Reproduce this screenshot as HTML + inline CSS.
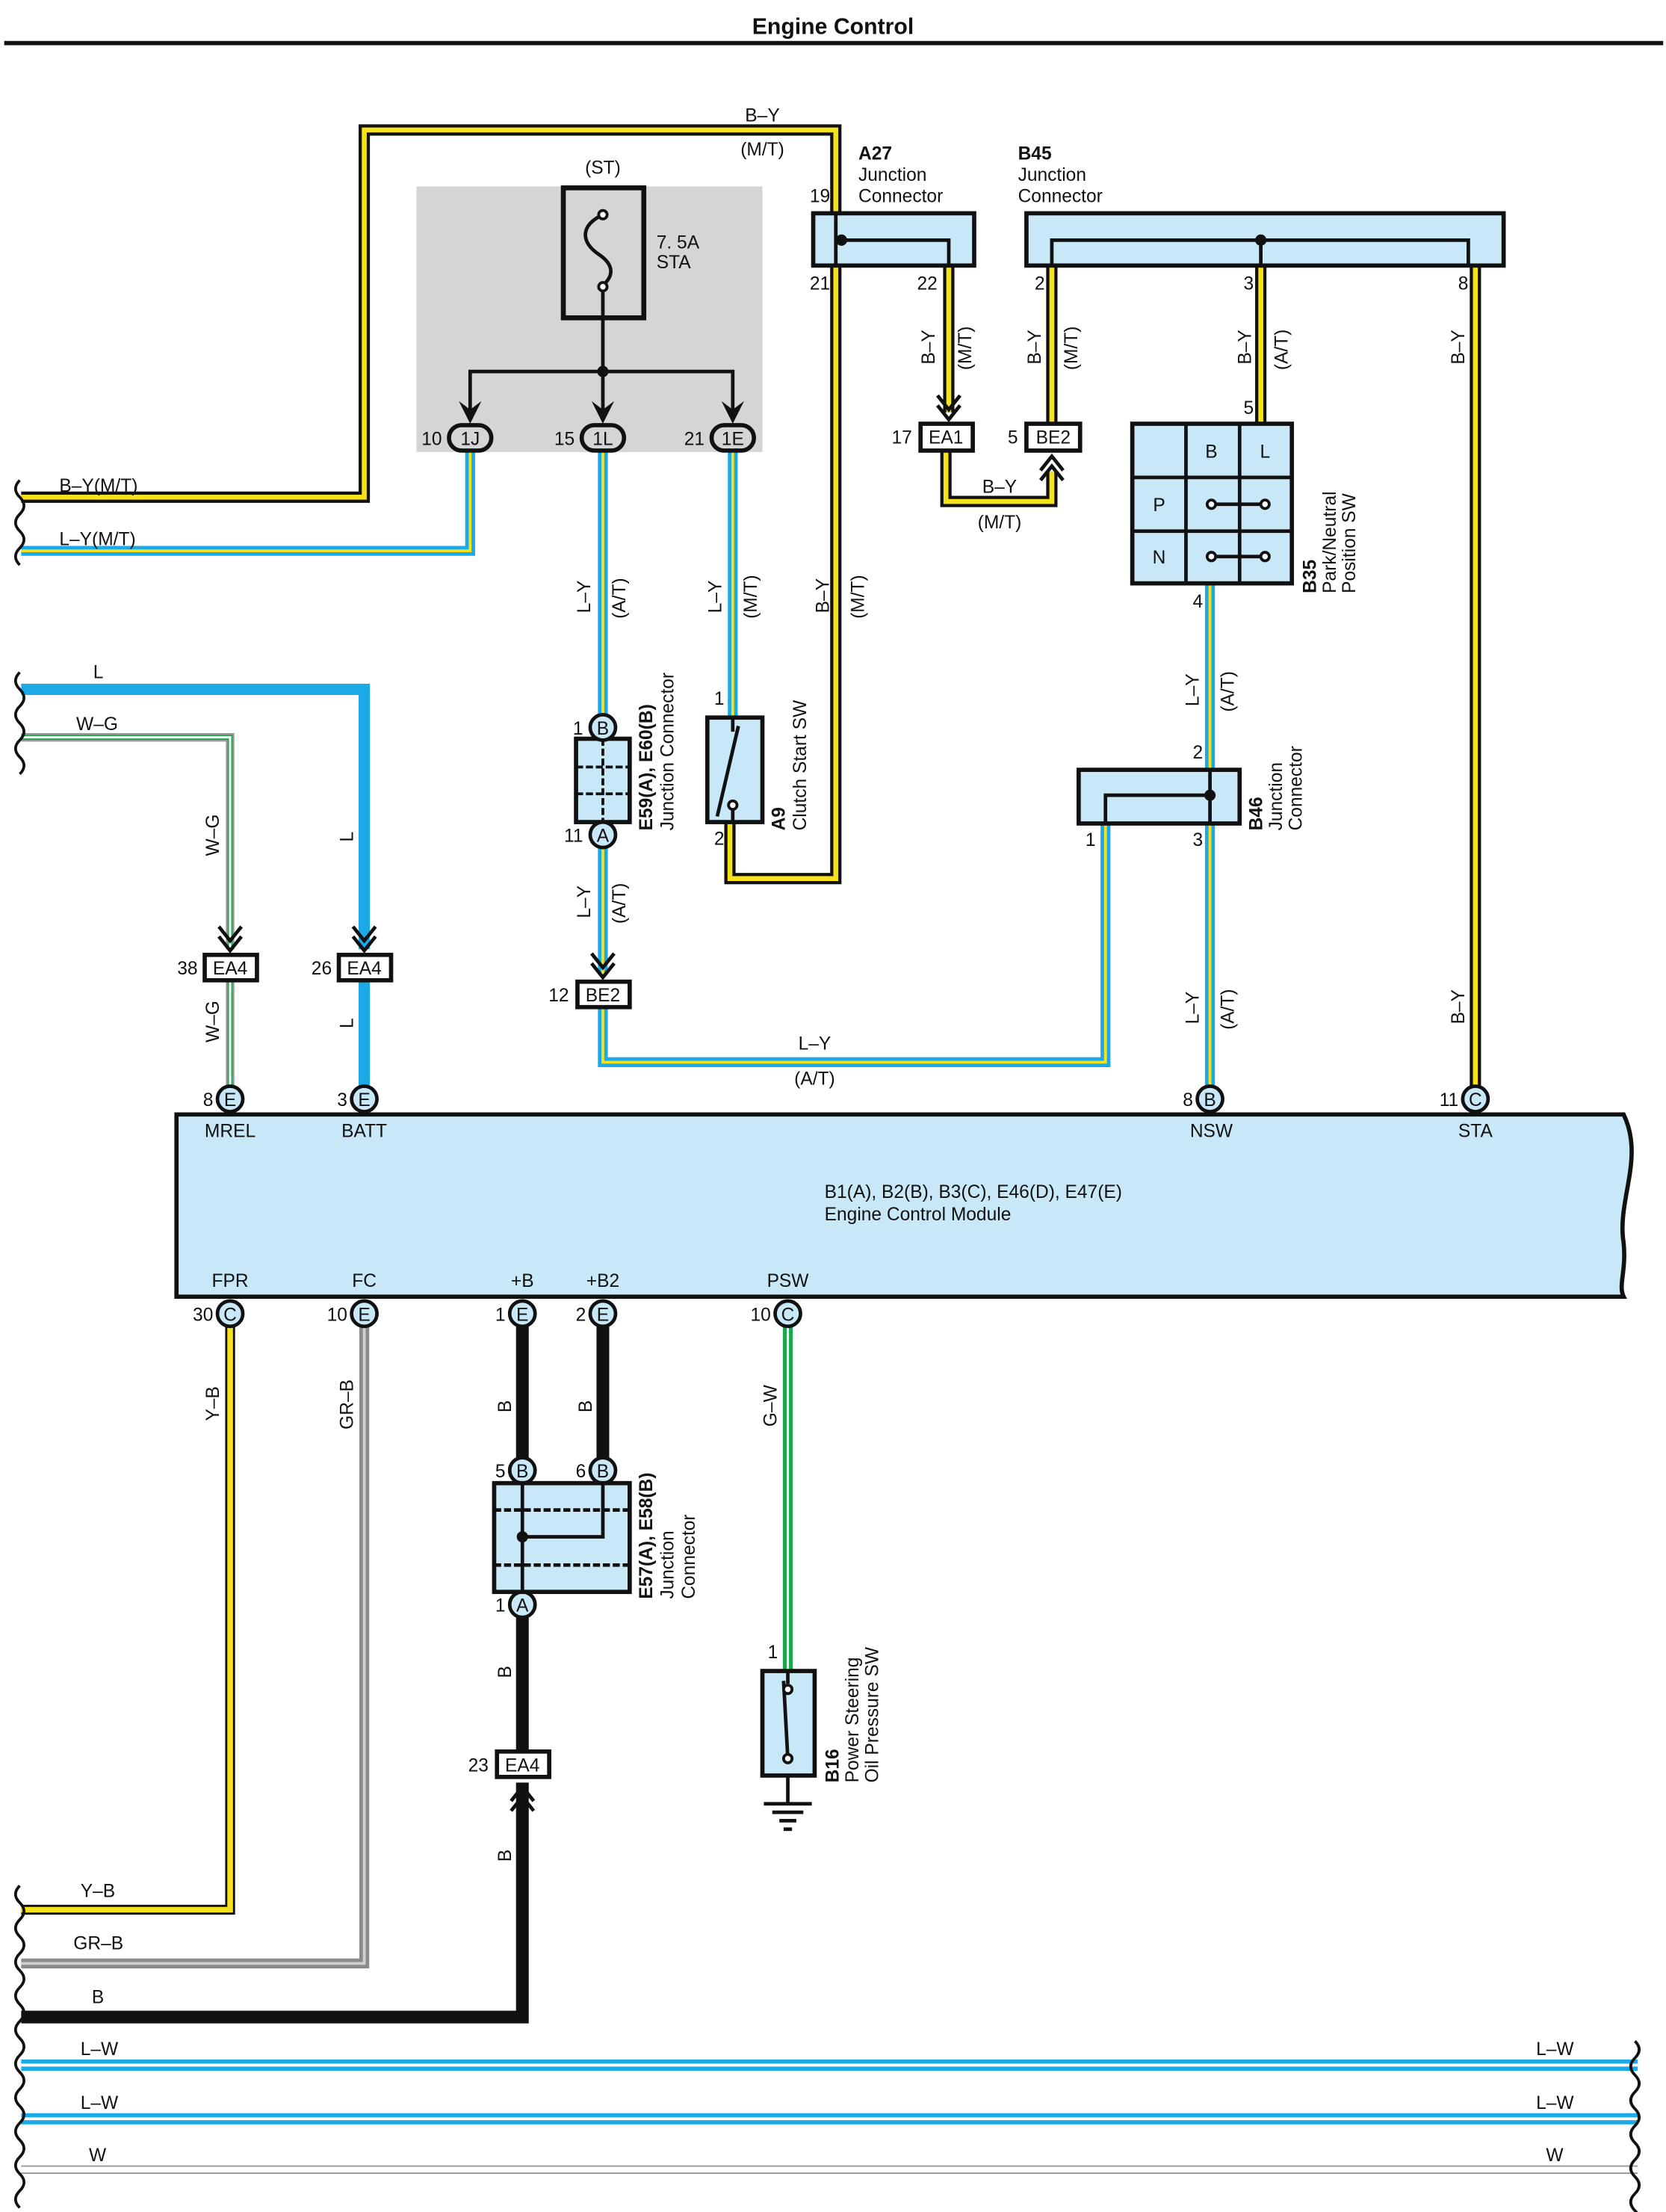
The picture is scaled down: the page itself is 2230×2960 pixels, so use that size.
<!DOCTYPE html>
<html><head><meta charset="utf-8"><style>
html,body{margin:0;padding:0;background:#fff}
svg{display:block}
text{font-family:"Liberation Sans",sans-serif;font-size:13px;fill:#111}
.bk{fill:none;stroke:#111;stroke-width:8;stroke-linejoin:miter}
.ye{fill:none;stroke:#f5e11c;stroke-width:3.5}
.bl{fill:none;stroke:#1ba9e8;stroke-width:7}
.ye2{fill:none;stroke:#f5e11c;stroke-width:2}
.wh{fill:none;stroke:#fff;stroke-width:1.6}
.box{fill:#c8e7f7;stroke:#111;stroke-width:3}
.ln{fill:none;stroke:#111;stroke-width:2.5}
</style></head><body>
<svg width="2230" height="2960" viewBox="0 0 1180 1566" preserveAspectRatio="none" xmlns="http://www.w3.org/2000/svg">
<text x="590" y="24" text-anchor="middle" style="font-weight:bold;font-size:16px">Engine Control</text>
<rect x="3" y="29" width="1175" height="3" fill="#111"/>

<!-- grey relay block -->
<rect x="295" y="132" width="245" height="188" fill="#d4d5d7"/>
<rect x="399" y="133" width="57" height="92" fill="none" stroke="#111" stroke-width="3.5"/>
<path d="M427 152 C410 160,412 172,424 180 C436 188,434 196,427 202" class="ln"/>
<circle cx="427" cy="152" r="3" fill="#fff" stroke="#111" stroke-width="2"/>
<circle cx="427" cy="203" r="3" fill="#fff" stroke="#111" stroke-width="2"/>
<path d="M427 206 V263 M333 290 V263 H519 V290 M427 263 V290" class="ln"/>
<circle cx="427" cy="263" r="4" fill="#111"/>
<path d="M325 284 L333 300 L341 284 L333 290Z M419 284 L427 300 L435 284 L427 290Z M511 284 L519 300 L527 284 L519 290Z" fill="#111"/>
<text x="427" y="123" text-anchor="middle">(ST)</text>
<text x="465" y="176">7. 5A</text>
<text x="465" y="190">STA</text>

<!-- wires: B-Y -->
<g>
<path class="bk" d="M15 352 H258 V92 H592 V150"/><path class="ye" d="M15 352 H258 V92 H592 V150"/>
<path class="bk" d="M592 188 V622 H517 V582"/><path class="ye" d="M592 188 V622 H517 V582"/>
<path class="bk" d="M672 188 V292"/><path class="ye" d="M672 188 V292"/>
<path class="bk" d="M670 320 V355 H745 V334"/><path class="ye" d="M670 320 V355 H745 V334"/>
<path class="bk" d="M745 188 V300"/><path class="ye" d="M745 188 V300"/>
<path class="bk" d="M893 188 V300"/><path class="ye" d="M893 188 V300"/>
<path class="bk" d="M1045 188 V770"/><path class="ye" d="M1045 188 V770"/>
</g>
<!-- L-Y -->
<g>
<path class="bl" d="M15 390 H333 V320"/><path class="ye2" d="M15 390 H333 V320"/>
<path class="bl" d="M427 320 V506"/><path class="ye2" d="M427 320 V506"/>
<path class="bl" d="M427 600 V690"/><path class="ye2" d="M427 600 V690"/>
<path class="bl" d="M519 320 V508"/><path class="ye2" d="M519 320 V508"/>
<path class="bl" d="M857 413 V545"/><path class="ye2" d="M857 413 V545"/>
<path class="bl" d="M857 583 V770"/><path class="ye2" d="M857 583 V770"/>
<path class="bl" d="M783 583 V752 H427 V713"/><path class="ye2" d="M783 583 V752 H427 V713"/>
</g>
<!-- L and W-G -->
<path d="M15 488 H258 V672 M258 694 V770" fill="none" stroke="#1ba9e8" stroke-width="8"/>
<path d="M15 522 H163 V672 M163 694 V770" fill="none" stroke="#999" stroke-width="6"/>
<path d="M15 522 H163 V672 M163 694 V770" fill="none" stroke="#1aa84a" stroke-width="3.5"/>
<path d="M15 522 H163 V672 M163 694 V770" class="wh" stroke-width="1"/>
<!-- bottom wires -->
<path d="M163 938 V1352 H15" fill="none" stroke="#111" stroke-width="7"/>
<path d="M163 938 V1352 H15" fill="none" stroke="#f5e11c" stroke-width="4"/>
<path d="M258 938 V1390 H15" fill="none" stroke="#8b8b8b" stroke-width="7"/>
<path d="M258 938 V1390 H15" fill="none" stroke="#cfcfcf" stroke-width="2"/>
<path d="M370 938 V1032 M427 938 V1032 M370 1145 V1240 M370 1262 V1428 H15" fill="none" stroke="#111" stroke-width="9"/>
<path d="M558 938 V1182" fill="none" stroke="#1aa84a" stroke-width="7"/>
<path d="M558 938 V1182" class="wh"/>
<path d="M15 1462 H1160 M15 1500 H1160" fill="none" stroke="#1ba9e8" stroke-width="8"/>
<path d="M15 1462 H1160 M15 1500 H1160" fill="none" stroke="#fff" stroke-width="2"/>
<path d="M15 1536 H1160" fill="none" stroke="#999" stroke-width="6"/>
<path d="M15 1536 H1160" fill="none" stroke="#fff" stroke-width="4"/>

<!-- wavy ends -->
<g fill="none" stroke="#111" stroke-width="2">
<path d="M14 340 q-6 6 0 12 q6 6 0 12 q-6 6 0 12 q6 6 0 12 q-6 6 0 12"/>
<path d="M14 476 q-6 6 0 12 q6 6 0 12 q-6 6 0 12 q6 6 0 12 q-6 6 0 12 q6 6 0 12"/>
<path d="M14 1335 q-6 6 0 12 q6 6 0 12 q-6 6 0 12 q6 6 0 12 q-6 6 0 12 q6 6 0 12 q-6 6 0 12 q6 6 0 12 q-6 6 0 12 q6 6 0 12 q-6 6 0 12 q6 6 0 12 q-6 6 0 12 q6 6 0 12 q-6 6 0 12 q6 6 0 12 q-6 6 0 12 q6 6 0 12 q-6 6 0 12"/>
<path d="M1158 1445 q6 6 0 12 q-6 6 0 12 q6 6 0 12 q-6 6 0 12 q6 6 0 12 q-6 6 0 12 q6 6 0 12 q-6 6 0 12 q6 6 0 12 q-6 6 0 12 q6 6 0 12 q-6 6 0 12"/>
</g>

<!-- A27 -->
<rect x="576" y="151" width="114" height="37" class="box"/>
<path d="M592 151 V188 M596 170 H672 V188" class="ln" stroke-width="2"/>
<circle cx="596" cy="170" r="4" fill="#111"/>
<text x="608" y="113" style="font-weight:bold">A27</text><text x="608" y="128">Junction</text><text x="608" y="143">Connector</text>
<text x="588" y="143" text-anchor="end">19</text><text x="588" y="205" text-anchor="end">21</text><text x="664" y="205" text-anchor="end">22</text>
<!-- B45 -->
<rect x="727" y="151" width="338" height="37" class="box"/>
<path d="M745 188 V170 H1040 V188 M893 170 V188" class="ln" stroke-width="2"/>
<circle cx="893" cy="170" r="4" fill="#111"/>
<text x="721" y="113" style="font-weight:bold">B45</text><text x="721" y="128">Junction</text><text x="721" y="143">Connector</text>
<text x="740" y="205" text-anchor="end">2</text><text x="888" y="205" text-anchor="end">3</text><text x="1040" y="205" text-anchor="end">8</text>

<!-- EA1 / BE2 -->
<path d="M664 280 l8 10 l8 -10 M664 287 l8 10 l8 -10" fill="none" stroke="#111" stroke-width="2.5"/>
<rect x="652" y="300" width="37" height="19" fill="#fff" stroke="#111" stroke-width="3"/>
<text x="670" y="314" text-anchor="middle">EA1</text><text x="646" y="314" text-anchor="end">17</text>
<rect x="727" y="300" width="38" height="19" fill="#fff" stroke="#111" stroke-width="3"/>
<text x="746" y="314" text-anchor="middle">BE2</text><text x="721" y="314" text-anchor="end">5</text>
<path d="M737 340 l8 -10 l8 10 M737 333 l8 -10 l8 10" fill="none" stroke="#111" stroke-width="2.5"/>
<text x="708" y="349" text-anchor="middle">B–Y</text><text x="708" y="374" text-anchor="middle">(M/T)</text>

<!-- B35 -->
<rect x="802" y="300" width="113" height="113" class="box"/>
<path d="M840 300 V413 M878 300 V413 M802 338 H915 M802 376 H915" stroke="#111" stroke-width="2.5"/>
<text x="858" y="324" text-anchor="middle">B</text><text x="896" y="324" text-anchor="middle">L</text>
<text x="821" y="362" text-anchor="middle">P</text><text x="821" y="399" text-anchor="middle">N</text>
<path d="M858 357 H896 M858 394 H896" stroke="#111" stroke-width="2.5"/>
<g fill="#fff" stroke="#111" stroke-width="2"><circle cx="858" cy="357" r="3"/><circle cx="896" cy="357" r="3"/><circle cx="858" cy="394" r="3"/><circle cx="896" cy="394" r="3"/></g>
<text x="888" y="293" text-anchor="end">5</text><text x="852" y="430" text-anchor="end">4</text>
<text transform="translate(932,420) rotate(-90)" style="font-weight:bold">B35</text>
<text transform="translate(946,420) rotate(-90)">Park/Neutral</text>
<text transform="translate(960,420) rotate(-90)">Position SW</text>

<!-- B46 -->
<rect x="764" y="545" width="114" height="38" class="box"/>
<path d="M857 545 V583 M857 563 H783 V583" class="ln" stroke-width="2"/>
<circle cx="857" cy="563" r="4" fill="#111"/>
<text x="852" y="537" text-anchor="end">2</text><text x="776" y="599" text-anchor="end">1</text><text x="852" y="599" text-anchor="end">3</text>
<text transform="translate(894,588) rotate(-90)" style="font-weight:bold">B46</text>
<text transform="translate(908,588) rotate(-90)">Junction</text>
<text transform="translate(922,588) rotate(-90)">Connector</text>

<!-- E59/E60 -->
<rect x="408" y="523" width="38" height="59" class="box"/>
<path d="M427 523 V582 M408 543 H446 M408 562 H446" stroke="#111" stroke-width="2" stroke-dasharray="5 2"/>
<text transform="translate(462,588) rotate(-90)" style="font-weight:bold">E59(A), E60(B)</text>
<text transform="translate(477,588) rotate(-90)">Junction Connector</text>

<!-- A9 clutch -->
<rect x="501" y="508" width="39" height="74" class="box"/>
<path d="M519 508 V518 M508 578 L523 514 M519 570 V582" class="ln" stroke-width="2"/>
<circle cx="519" cy="570" r="3" fill="#fff" stroke="#111" stroke-width="2"/>
<text x="513" y="499" text-anchor="end">1</text><text x="513" y="598" text-anchor="end">2</text>
<text transform="translate(556,588) rotate(-90)" style="font-weight:bold">A9</text>
<text transform="translate(571,588) rotate(-90)">Clutch Start SW</text>

<!-- BE2 12 -->
<path d="M419 675 l8 10 l8 -10 M419 682 l8 10 l8 -10" fill="none" stroke="#111" stroke-width="2.5"/>
<rect x="409" y="695" width="37" height="18" fill="#fff" stroke="#111" stroke-width="3"/>
<text x="427" y="709" text-anchor="middle">BE2</text><text x="403" y="709" text-anchor="end">12</text>
<!-- EA4 left -->
<path d="M155 656 l8 10 l8 -10 M155 663 l8 10 l8 -10 M250 656 l8 10 l8 -10 M250 663 l8 10 l8 -10" fill="none" stroke="#111" stroke-width="2.5"/>
<rect x="145" y="676" width="37" height="18" fill="#fff" stroke="#111" stroke-width="3"/>
<rect x="240" y="676" width="37" height="18" fill="#fff" stroke="#111" stroke-width="3"/>
<text x="163" y="690" text-anchor="middle">EA4</text><text x="258" y="690" text-anchor="middle">EA4</text>
<text x="140" y="690" text-anchor="end">38</text><text x="235" y="690" text-anchor="end">26</text>

<!-- oval connectors 1J 1L 1E -->
<g fill="#d4d5d7" stroke="#111" stroke-width="3">
<rect x="318" y="301" width="30" height="18" rx="9"/><rect x="412" y="301" width="30" height="18" rx="9"/><rect x="504" y="301" width="30" height="18" rx="9"/></g>
<text x="333" y="315" text-anchor="middle">1J</text><text x="427" y="315" text-anchor="middle">1L</text><text x="519" y="315" text-anchor="middle">1E</text>
<text x="313" y="315" text-anchor="end">10</text><text x="407" y="315" text-anchor="end">15</text><text x="499" y="315" text-anchor="end">21</text>

<!-- ECM -->
<path d="M125 789 H1150 C1165 820,1145 850,1150 880 C1152 900,1146 910,1150 918 H125 Z" fill="#c8e7f7" stroke="#111" stroke-width="3"/>
<text x="584" y="848">B1(A), B2(B), B3(C), E46(D), E47(E)</text>
<text x="584" y="864">Engine Control Module</text>
<g text-anchor="middle"><text x="163" y="805">MREL</text><text x="258" y="805">BATT</text><text x="858" y="805">NSW</text><text x="1045" y="805">STA</text>
<text x="163" y="911">FPR</text><text x="258" y="911">FC</text><text x="370" y="911">+B</text><text x="427" y="911">+B2</text><text x="558" y="911">PSW</text></g>

<!-- pin circles -->
<g fill="#c8e7f7" stroke="#111" stroke-width="2.5">
<circle cx="163" cy="778" r="9"/><circle cx="258" cy="778" r="9"/><circle cx="857" cy="778" r="9"/><circle cx="1045" cy="778" r="9"/>
<circle cx="163" cy="930" r="9"/><circle cx="258" cy="930" r="9"/><circle cx="370" cy="930" r="9"/><circle cx="427" cy="930" r="9"/><circle cx="558" cy="930" r="9"/>
<circle cx="427" cy="515" r="9"/><circle cx="427" cy="591" r="9"/>
<circle cx="370" cy="1041" r="9"/><circle cx="427" cy="1041" r="9"/><circle cx="370" cy="1136" r="9"/></g>
<g text-anchor="middle" style="font-size:12px">
<text x="163" y="783">E</text><text x="258" y="783">E</text><text x="857" y="783">B</text><text x="1045" y="783">C</text>
<text x="163" y="935">C</text><text x="258" y="935">E</text><text x="370" y="935">E</text><text x="427" y="935">E</text><text x="558" y="935">C</text>
<text x="427" y="520">B</text><text x="427" y="596">A</text>
<text x="370" y="1046">B</text><text x="427" y="1046">B</text><text x="370" y="1141">A</text></g>
<g text-anchor="end">
<text x="151" y="783">8</text><text x="246" y="783">3</text><text x="845" y="783">8</text><text x="1033" y="783">11</text>
<text x="151" y="935">30</text><text x="246" y="935">10</text><text x="358" y="935">1</text><text x="415" y="935">2</text><text x="546" y="935">10</text>
<text x="413" y="520">1</text><text x="413" y="596">11</text>
<text x="358" y="1046">5</text><text x="415" y="1046">6</text><text x="358" y="1141">1</text></g>

<!-- E57/E58 -->
<rect x="350" y="1050" width="96" height="77" class="box"/>
<path d="M350 1069 H446 M350 1108 H446" stroke="#111" stroke-width="2.5" stroke-dasharray="5 2"/>
<path d="M370 1050 V1127 M370 1088 H427 V1050" class="ln" stroke-width="2"/>
<circle cx="370" cy="1088" r="4" fill="#111"/>
<text transform="translate(462,1132) rotate(-90)" style="font-weight:bold">E57(A), E58(B)</text>
<text transform="translate(477,1132) rotate(-90)">Junction</text>
<text transform="translate(492,1132) rotate(-90)">Connector</text>
<!-- EA4 23 -->
<rect x="352" y="1240" width="37" height="18" fill="#fff" stroke="#111" stroke-width="3"/>
<text x="370" y="1254" text-anchor="middle">EA4</text><text x="346" y="1254" text-anchor="end">23</text>
<path d="M362 1275 l8 -10 l8 10 M362 1282 l8 -10 l8 10" fill="none" stroke="#111" stroke-width="2.5"/>

<!-- B16 -->
<rect x="540" y="1183" width="37" height="74" class="box"/>
<path d="M558 1183 V1192 M555 1190 L558 1245 M558 1257 V1277 M541 1277 H575 M547 1283 H569 M552 1289 H564 M555 1295 H561" class="ln" stroke-width="2.5"/>
<circle cx="558" cy="1196" r="3" fill="#fff" stroke="#111" stroke-width="2"/>
<circle cx="558" cy="1245" r="3" fill="#fff" stroke="#111" stroke-width="2"/>
<text x="551" y="1174" text-anchor="end">1</text>
<text transform="translate(594,1262) rotate(-90)" style="font-weight:bold">B16</text>
<text transform="translate(608,1262) rotate(-90)">Power Steering</text>
<text transform="translate(622,1262) rotate(-90)">Oil Pressure SW</text>

<!-- wire labels horizontal -->
<text x="42" y="348">B–Y(M/T)</text><text x="42" y="386">L–Y(M/T)</text>
<text x="540" y="86" text-anchor="middle">B–Y</text><text x="540" y="110" text-anchor="middle">(M/T)</text>
<text x="66" y="480">L</text><text x="54" y="517">W–G</text>
<text x="577" y="743" text-anchor="middle">L–Y</text><text x="577" y="768" text-anchor="middle">(A/T)</text>
<text x="57" y="1343">Y–B</text><text x="52" y="1380">GR–B</text><text x="65" y="1418">B</text>
<text x="57" y="1455">L–W</text><text x="57" y="1493">L–W</text><text x="63" y="1530">W</text>
<text x="1088" y="1455">L–W</text><text x="1088" y="1493">L–W</text><text x="1095" y="1530">W</text>

<!-- rotated wire labels -->
<g>
<text transform="translate(662,258) rotate(-90)">B–Y</text><text transform="translate(688,262) rotate(-90)">(M/T)</text>
<text transform="translate(737,258) rotate(-90)">B–Y</text><text transform="translate(763,262) rotate(-90)">(M/T)</text>
<text transform="translate(886,258) rotate(-90)">B–Y</text><text transform="translate(912,262) rotate(-90)">(A/T)</text>
<text transform="translate(1037,258) rotate(-90)">B–Y</text>
<text transform="translate(418,434) rotate(-90)">L–Y</text><text transform="translate(443,438) rotate(-90)">(A/T)</text>
<text transform="translate(511,434) rotate(-90)">L–Y</text><text transform="translate(536,438) rotate(-90)">(M/T)</text>
<text transform="translate(587,434) rotate(-90)">B–Y</text><text transform="translate(612,438) rotate(-90)">(M/T)</text>
<text transform="translate(849,500) rotate(-90)">L–Y</text><text transform="translate(874,504) rotate(-90)">(A/T)</text>
<text transform="translate(418,650) rotate(-90)">L–Y</text><text transform="translate(443,654) rotate(-90)">(A/T)</text>
<text transform="translate(849,725) rotate(-90)">L–Y</text><text transform="translate(874,729) rotate(-90)">(A/T)</text>
<text transform="translate(1037,725) rotate(-90)">B–Y</text>
<text transform="translate(155,606) rotate(-90)">W–G</text><text transform="translate(250,596) rotate(-90)">L</text>
<text transform="translate(155,738) rotate(-90)">W–G</text><text transform="translate(250,728) rotate(-90)">L</text>
<text transform="translate(155,1006) rotate(-90)">Y–B</text><text transform="translate(250,1012) rotate(-90)">GR–B</text>
<text transform="translate(362,1000) rotate(-90)">B</text><text transform="translate(419,1000) rotate(-90)">B</text>
<text transform="translate(362,1188) rotate(-90)">B</text><text transform="translate(362,1318) rotate(-90)">B</text>
<text transform="translate(550,1010) rotate(-90)">G–W</text>
</g>
</svg>
</body></html>
